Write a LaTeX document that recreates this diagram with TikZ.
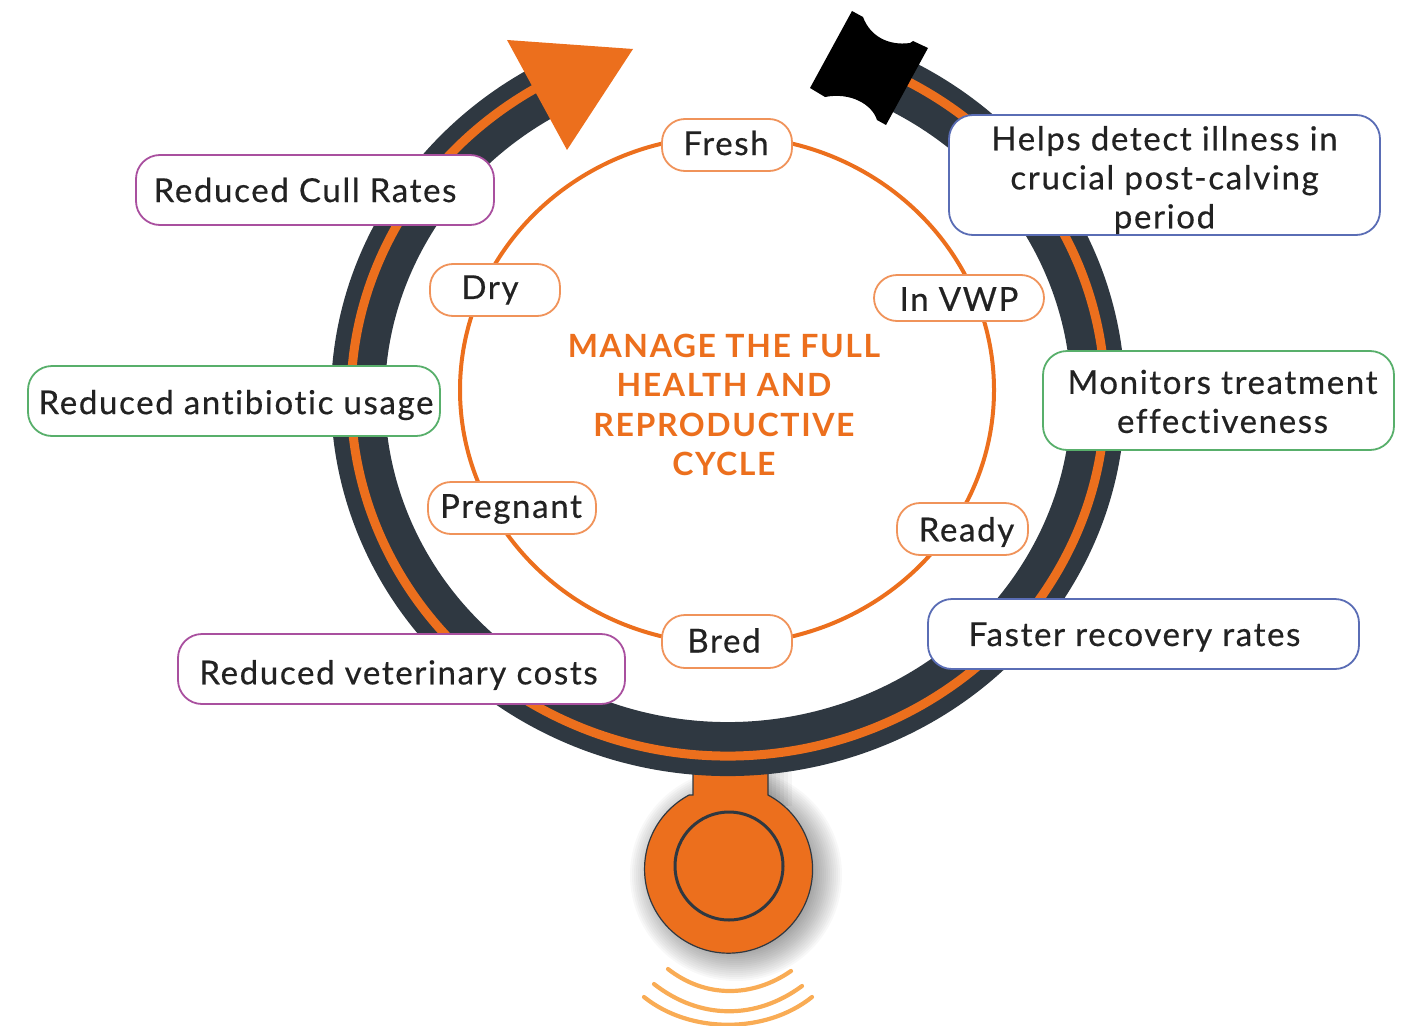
\documentclass[tikz,border=0pt]{standalone}
\usepackage{fontspec}
\setmainfont[LetterSpace=5,Ligatures=NoCommon,UprightFeatures={FakeBold=0.5}]{Lato}
\usetikzlibrary{calc}
\definecolor{ringdark}{HTML}{2F3841}
\definecolor{brand}{HTML}{EC6F1D}
\definecolor{pillline}{HTML}{F0935A}
\definecolor{wave}{HTML}{F9AC55}
\definecolor{boxpurple}{HTML}{A9509F}
\definecolor{boxgreen}{HTML}{58AF6B}
\definecolor{boxblue}{HTML}{5A6DB5}
\definecolor{inktext}{HTML}{222222}
\tikzset{
  pill/.style={draw=pillline,line width=1.8pt,fill=white,rounded corners=23pt,inner sep=0pt},
  benefit/.style={draw=#1,line width=1.8pt,fill=white,rounded corners=24pt,inner sep=0pt},
  lab/.style={inner sep=0pt,text=inktext,font=\fontsize{33}{39}\selectfont,align=center},
  wavearc/.style={draw=wave,line width=4.2pt,line cap=round},
}
\newcommand{\boxat}[9]{% name, style, x0, y0, x1, y1, dx, dy, text
  \node[#2,minimum width=#5pt-#3pt,minimum height=#6pt-#4pt] (#1) at ({(#3+#5)/2},{(#4+#6)/2}) {};
  \node[lab] (#1-text) at ($(#1)+(#7,#8)$) {#9};}
\begin{document}
\begin{tikzpicture}[x=1pt,y=-1pt]
\useasboundingbox (0,0) rectangle (1413,1025);
\coordinate (ringc) at (728,397);
\coordinate (tagc) at (728,864);
% shadow of the tag
\foreach \r in {106,104,...,72}{
  \fill[black,opacity=0.028] ($(tagc)+(8,11)$) circle[radius=\r];
}
\foreach \w in {4,8,...,24}{
  \fill[black,opacity=0.035] (768,770) rectangle (768+\w,806);
}
% tag
\fill[brand,draw=ringdark,line width=1.2pt] (693,795) -- (693,765) -- (768,765) -- (768,795)
  arc[start angle=-62,end angle=242,radius=84] -- cycle;
\draw[ringdark,line width=3pt] (729,866) circle[radius=54];
% ring
\draw[ringdark,line width=54pt] (ringc) ++(-62:370 and 352) arc[start angle=-62,end angle=243,x radius=370,y radius=352];
\draw[brand,line width=9pt] (ringc) ++(-62:377 and 359) arc[start angle=-62,end angle=243,x radius=377,y radius=359];
% arrowhead
\fill[brand] (507,40) -- (633,49) -- (567,150) -- cycle;
% black cap
\fill[black] (852,11) -- (863,17) .. controls (870,36) and (888,46) .. (910,43) -- (913,41) -- (928,48) -- (886,125) -- (877,120)
  .. controls (872,104) and (850,92) .. (825,97) -- (810,88) -- cycle;
% waves
\draw[wavearc] (668,969) .. controls (705,998) and (752,998) .. (791,971);
\draw[wavearc] (654,984) .. controls (700,1020) and (756,1020) .. (802,986);
\draw[wavearc] (644,997) .. controls (690,1034) and (766,1034) .. (812,997);
% inner cycle
\draw[brand,line width=4pt] (727,390) ellipse[x radius=267,y radius=254];
% centre title
\node[text=brand,align=center,font=\fontsize{32}{39.3}\selectfont\bfseries,inner sep=0pt] (title) at (724,405) {MANAGE THE FULL\\HEALTH AND\\REPRODUCTIVE\\CYCLE};
% stage pills
\boxat{fresh}{pill}{662}{119}{792}{171}{-1}{-2}{Fresh}
\boxat{dry}{pill}{430}{264}{560}{316}{-5}{0}{Dry}
\boxat{vwp}{pill}{874}{275}{1044}{321}{0}{1}{In VWP}
\boxat{pregnant}{pill}{428}{482}{596}{534}{-1}{1}{Pregnant}
\boxat{ready}{pill}{897}{503}{1028}{555}{4}{3}{Ready}
\boxat{bred}{pill}{662}{615}{792}{668}{-3}{-1}{Bred}
% benefits
\boxat{cull}{benefit=boxpurple}{136}{155}{494}{225}{-10}{0}{Reduced Cull Rates}
\boxat{helps}{benefit=boxblue}{949}{115}{1380}{235}{0}{5}{Helps detect illness in\\crucial post-calving\\period}
\boxat{monitors}{benefit=boxgreen}{1043}{351}{1394}{450}{4}{1}{Monitors treatment\\effectiveness}
\boxat{antibiotic}{benefit=boxgreen}{28}{366}{440}{436}{2}{4}{Reduced antibiotic usage}
\boxat{vet}{benefit=boxpurple}{178}{634}{625}{704}{-3}{6}{Reduced veterinary costs}
\boxat{faster}{benefit=boxblue}{928}{599}{1359}{669}{-9}{3}{Faster recovery rates}
\end{tikzpicture}
\end{document}
